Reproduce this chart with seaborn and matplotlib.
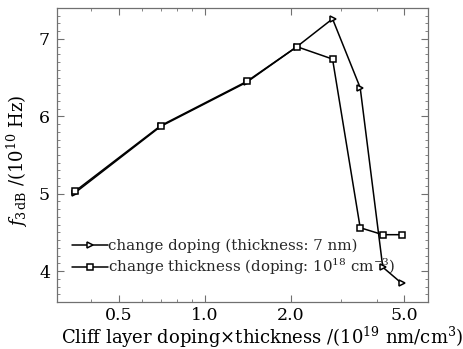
import numpy as np
import pandas as pd
import matplotlib
matplotlib.use("Agg")
import matplotlib.pyplot as plt
import seaborn as sns
from matplotlib.ticker import FixedLocator, FixedFormatter, MultipleLocator, NullFormatter

# data
x_vals = [0.35, 0.7, 1.4, 2.1, 2.8, 3.5, 4.2, 4.9]
doping_f3db = [5.01, 5.87, 6.44, 6.90, 7.26, 6.37, 4.05, 3.84]
thickness_f3db = [5.03, 5.88, 6.45, 6.90, 6.74, 4.56, 4.47, 4.47]
label_doping = "change doping (thickness: 7 nm)"
label_thick = "change thickness (doping: 10$^{18}$ cm$^{-3}$)"
xticks = [0.5, 1.0, 2.0, 5.0]
xticklabels = ["0.5", "1.0", "2.0", "5.0"]
yticks = [4, 5, 6, 7]

sns.set_style("ticks")
plt.rcParams['font.family'] = ['DejaVu Serif']
plt.rcParams['mathtext.fontset'] = 'dejavuserif'

df = pd.DataFrame({
    "x": x_vals * 2,
    "y": doping_f3db + thickness_f3db,
    "series": [label_doping] * len(x_vals) + [label_thick] * len(x_vals),
})

fig = plt.figure(figsize=(4.64, 3.49), dpi=100)
ax = fig.add_axes([57/464, 1 - 302/349, (428-57)/464, (302-8)/349])

sns.lineplot(data=df, x="x", y="y", hue="series", style="series",
             markers={label_doping: '>', label_thick: 's'}, dashes=False,
             palette={label_doping: 'black', label_thick: 'black'},
             sort=False, estimator=None, ax=ax, linewidth=1.1,
             markersize=4.5, markerfacecolor='white', markeredgecolor='black',
             markeredgewidth=1.1)

ax.set_xscale('log')
ax.set_xlim(0.303, 6.05)
ax.set_ylim(3.6, 7.4)
ax.xaxis.set_major_locator(FixedLocator(xticks))
ax.xaxis.set_major_formatter(FixedFormatter(xticklabels))
ax.xaxis.set_minor_locator(FixedLocator([0.4, 0.6, 0.7, 0.8, 0.9, 3.0, 4.0]))
ax.xaxis.set_minor_formatter(NullFormatter())
ax.yaxis.set_major_locator(FixedLocator(yticks))
ax.yaxis.set_minor_locator(MultipleLocator(0.1))

gray = '#707070'
for sp in ax.spines.values():
    sp.set_visible(True)
    sp.set_color(gray)
    sp.set_linewidth(0.9)
ax.tick_params(which='both', direction='in', top=True, right=True, color=gray,
               labelsize=12.5, labelcolor='black')
ax.tick_params(which='major', length=5, width=0.8, pad=3.5)
ax.tick_params(axis='y', which='major', pad=5)
ax.tick_params(which='minor', length=2.5, width=0.6)

ax.set_xlabel("Cliff layer doping\u00d7thickness /(10$^{19}$ nm/cm$^{3}$)",
              fontsize=13, color='black')
ax.xaxis.set_label_coords(0.553, -0.077)
ax.set_ylabel("$f_{3\\,\\mathrm{dB}}$ /(10$^{10}$ Hz)", fontsize=13,
              color='black')
ax.yaxis.set_label_coords(-0.074, 0.48)

handles, labels = ax.get_legend_handles_labels()
leg = ax.legend(handles, labels, loc='center left', bbox_to_anchor=(0.04, 0.15),
                frameon=False, fontsize=10.8, handlelength=2.4, handletextpad=0.0,
                labelspacing=0.25, borderaxespad=0.0, borderpad=0.0)

fig.savefig("out.png", dpi=100, facecolor='white')
